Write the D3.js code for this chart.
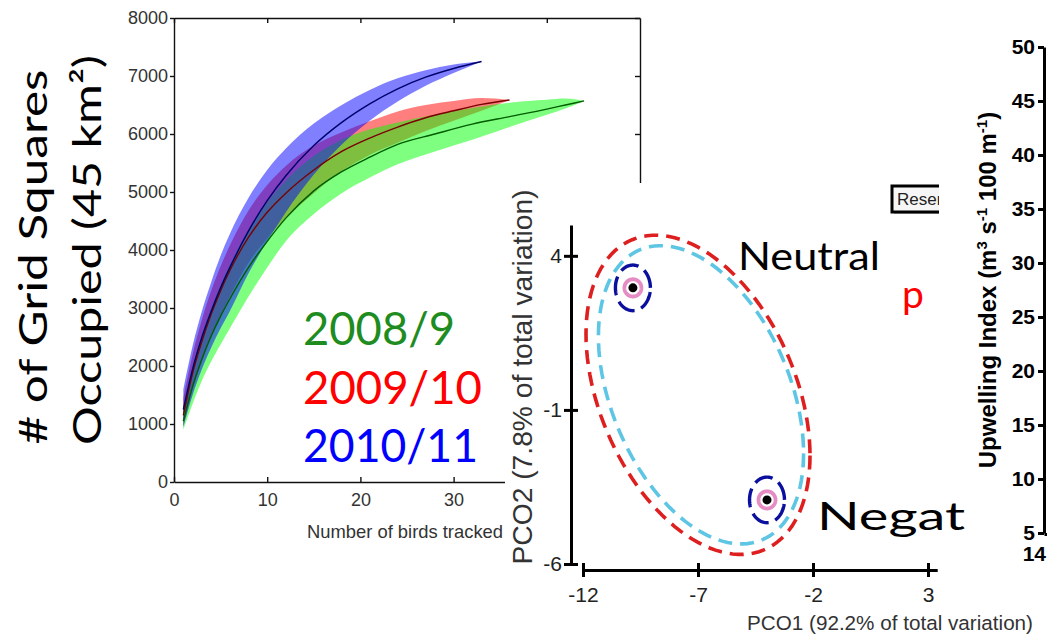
<!DOCTYPE html>
<html>
<head>
<meta charset="utf-8">
<script src="https://cdnjs.cloudflare.com/ajax/libs/d3/7.8.5/d3.min.js"></script>
<style>
    body { margin: 0; background: #fff; }
    svg { display: block; }
    text { font-family: "Liberation Sans", Arial, sans-serif; }
    .slide { font-family: Lato, "DejaVu Sans", sans-serif; }
</style>
</head>
<body>
<div id="chart"></div>
<script>
// ---- accumulation curves: grid squares occupied vs birds tracked ----
const seasons = ["2008/9", "2009/10", "2010/11"];

const birds0809 = [1, 2, 3, 4, 5, 6, 8, 10, 12, 15, 18, 21, 24, 28, 32, 36, 40, 42, 44];
const mean0809 = [1050, 1650, 2120, 2520, 2860, 3160, 3700, 4150, 4550, 5020, 5350, 5600, 5820, 6000, 6170, 6300, 6430, 6500, 6570];
const low0809 = [900, 1350, 1750, 2080, 2370, 2650, 3200, 3700, 4150, 4620, 4980, 5250, 5480, 5700, 5900, 6120, 6330, 6440, 6570];
const high0809 = [1300, 2000, 2550, 3000, 3400, 3750, 4350, 4820, 5200, 5620, 5900, 6080, 6200, 6330, 6450, 6540, 6590, 6610, 6570];

const birds0910 = [1, 2, 3, 4, 5, 6, 8, 10, 12, 15, 18, 21, 24, 27, 30, 33, 36];
const mean0910 = [1150, 1880, 2430, 2900, 3300, 3650, 4220, 4650, 4980, 5380, 5700, 5930, 6120, 6280, 6400, 6510, 6586];
const low0910 = [950, 1580, 2080, 2500, 2870, 3200, 3780, 4200, 4550, 4980, 5360, 5640, 5850, 6050, 6230, 6400, 6586];
const high0910 = [1450, 2200, 2800, 3300, 3720, 4080, 4680, 5120, 5450, 5800, 6030, 6220, 6390, 6500, 6570, 6620, 6586];

const birds1011 = [1, 2, 3, 4, 5, 6, 8, 10, 12, 15, 18, 21, 24, 27, 30, 33];
const mean1011 = [1250, 1950, 2500, 2950, 3350, 3700, 4330, 4850, 5280, 5800, 6200, 6520, 6780, 6980, 7130, 7250];
const low1011 = [950, 1500, 1950, 2320, 2650, 2950, 3600, 4150, 4650, 5300, 5820, 6230, 6560, 6830, 7050, 7250];
const high1011 = [1600, 2350, 2950, 3450, 3900, 4280, 4900, 5380, 5750, 6180, 6500, 6760, 6960, 7100, 7200, 7250];

const accumYTicks = [0, 1000, 2000, 3000, 4000, 5000, 6000, 7000, 8000];
const accumXTicks = [0, 10, 20, 30, 40];

// ---- PCO ordination ----
const pcoXTicks = [-12, -7, -2, 3];
const pcoYTicks = [4, -1, -6];
// big confidence regions: centre + two conjugate semi-axes (PCO units)
const regionCentre = [[-7.0, -0.51], [-6.87, -0.51]];
const regionAxisU = [[4.87, -1.97], [4.46, -1.90]];
const regionAxisV = [[0, -4.79], [0, -4.45]];
// group centroids (Neutral, Negative) and their spreads
const groupX = [-9.83, -4.0];
const groupY = [2.96, -3.92];
const spreadOuter = [0.76, 0.74];
const spreadInner = [0.37, 0.28];

// ---- upwelling index ----
const upwellTicks = [5, 10, 15, 20, 25, 30, 35, 40, 45, 50];

const W = 1047, H = 643;
const svg = d3.select("#chart").append("svg")
    .attr("width", W)
    .attr("height", H);

/* ================= panel 1 ================= */
const xA = d3.scaleLinear().domain([0, 50]).range([174, 640]);
const yA = d3.scaleLinear().domain([0, 8000]).range([482, 18]);
const gA = svg.append("g");

const series = [
    {x: birds0910, m: mean0910, lo: low0910, hi: high0910, fill: "#ff0000", line: "#7a0000"},
    {x: birds0809, m: mean0809, lo: low0809, hi: high0809, fill: "#00ff00", line: "#005c00"},
    {x: birds1011, m: mean1011, lo: low1011, hi: high1011, fill: "#0000ff", line: "#00006a"}
];
series.forEach(s => {
    s.pts = s.x.map((x, i) => ({x: x, m: s.m[i], lo: s.lo[i], hi: s.hi[i]}));
});

const band = d3.area()
    .curve(d3.curveMonotoneX)
    .x(d => xA(d.x))
    .y0(d => yA(d.lo))
    .y1(d => yA(d.hi));
const meanLine = d3.line()
    .curve(d3.curveMonotoneX)
    .x(d => xA(d.x))
    .y(d => yA(d.m));

gA.selectAll(".band")
    .data(series)
    .enter().append("path")
    .attr("class", "band")
    .attr("d", s => band(s.pts))
    .attr("fill", s => s.fill)
    .attr("fill-opacity", 0.5);

gA.selectAll(".mean")
    .data(series)
    .enter().append("path")
    .attr("class", "mean")
    .attr("d", s => meanLine(s.pts))
    .attr("fill", "none")
    .attr("stroke", s => s.line)
    .attr("stroke-width", 1.4);

function styleAxisA(g) {
    g.selectAll(".domain, .tick line").attr("stroke", "#111").attr("stroke-width", 1.4);
    g.selectAll("text").attr("font-size", 18).attr("fill", "#333");
}
const intFmt = d3.format("d");

gA.append("g")
    .attr("transform", "translate(" + xA(0) + ",0)")
    .call(d3.axisLeft(yA).tickValues(accumYTicks).tickFormat(intFmt)
        .tickSize(4).tickSizeOuter(0).tickPadding(2))
    .call(styleAxisA);
gA.append("g")
    .attr("transform", "translate(0," + yA(0) + ")")
    .call(d3.axisBottom(xA).tickValues(accumXTicks).tickFormat(intFmt)
        .tickSize(-5).tickSizeOuter(0).tickPadding(11))
    .call(styleAxisA);
gA.append("g")
    .attr("transform", "translate(0," + yA(8000) + ")")
    .call(d3.axisTop(xA).tickValues(accumXTicks).tickSize(-5).tickSizeOuter(0).tickFormat(""))
    .call(styleAxisA);
gA.append("g")
    .attr("transform", "translate(" + xA(50) + ",0)")
    .call(d3.axisRight(yA).tickValues(accumYTicks).tickSize(-5).tickSizeOuter(0).tickFormat(""))
    .call(styleAxisA);

gA.append("text")
    .attr("x", 405).attr("y", 538)
    .attr("text-anchor", "middle")
    .attr("font-size", 18.5)
    .attr("fill", "#333")
    .attr("textLength", 196)
    .attr("lengthAdjust", "spacingAndGlyphs")
    .text("Number of birds tracked");

// slide text: y title and season legend
gA.append("text").attr("class", "slide")
    .attr("transform", "translate(47,257) rotate(-90)")
    .attr("text-anchor", "middle")
    .attr("font-size", 38)
    .attr("textLength", 375)
    .attr("lengthAdjust", "spacingAndGlyphs")
    .text("# of Grid Squares");
gA.append("text").attr("class", "slide")
    .attr("transform", "translate(101,250) rotate(-90)")
    .attr("text-anchor", "middle")
    .attr("font-size", 38)
    .attr("textLength", 390)
    .attr("lengthAdjust", "spacingAndGlyphs")
    .text("Occupied (45 km²)");

const legendColors = ["#1e8c1e", "#ff0000", "#0000ff"];
const legendLen = [152, 179, 175];
gA.selectAll(".season")
    .data(seasons)
    .enter().append("text")
    .attr("class", "season slide")
    .attr("x", 303)
    .attr("y", (d, i) => 345 + i * 58.5)
    .attr("font-size", 46)
    .attr("fill", (d, i) => legendColors[i])
    .attr("textLength", (d, i) => legendLen[i])
    .attr("lengthAdjust", "spacingAndGlyphs")
    .text(d => d);

/* ================= panel 2: PCO ================= */
const gB = svg.append("g");
gB.append("rect")
    .attr("x", 505).attr("y", 183)
    .attr("width", 470).attr("height", 460)
    .attr("fill", "#fff");

const xB = d3.scaleLinear().domain([-12, 3.4]).range([583, 937.2]);
const yB = d3.scaleLinear().domain([-6, 5]).range([564, 225]);

function ellipsePts(c, u, v) {
    return d3.range(120).map(i => {
        const t = i / 120 * 2 * Math.PI;
        return [c[0] + u[0] * Math.cos(t) + v[0] * Math.sin(t),
                c[1] + u[1] * Math.cos(t) + v[1] * Math.sin(t)];
    });
}
const closedLine = d3.line()
    .curve(d3.curveLinearClosed)
    .x(d => xB(d[0]))
    .y(d => yB(d[1]));

const regionStyle = [{stroke: "#dd1f1f", dash: "14 8"}, {stroke: "#5ec6e4", dash: "14 8"}];
gB.selectAll(".region")
    .data(regionCentre)
    .enter().append("path")
    .attr("class", "region")
    .attr("d", (c, i) => closedLine(ellipsePts(c, regionAxisU[i], regionAxisV[i])))
    .attr("fill", "none")
    .attr("stroke", (c, i) => regionStyle[i].stroke)
    .attr("stroke-width", 3.6)
    .attr("stroke-dasharray", (c, i) => regionStyle[i].dash);

groupX.forEach((gx, i) => {
    const c = [gx, groupY[i]];
    gB.append("path")
        .attr("d", closedLine(ellipsePts(c, [spreadOuter[0], 0], [0, spreadOuter[1]])))
        .attr("fill", "none")
        .attr("stroke", "#0a0f9e")
        .attr("stroke-width", 3.4)
        .attr("stroke-dasharray", "19 7");
    gB.append("path")
        .attr("d", closedLine(ellipsePts(c, [spreadInner[0], 0], [0, spreadInner[1]])))
        .attr("fill", "none")
        .attr("stroke", "#e68cc4")
        .attr("stroke-width", 3.8);
    gB.append("circle")
        .attr("cx", xB(gx)).attr("cy", yB(groupY[i]))
        .attr("r", 4.5)
        .attr("fill", "#000");
});

function styleAxisB(g) {
    g.selectAll(".domain, .tick line").attr("stroke", "#000").attr("stroke-width", 3);
    g.selectAll("text").attr("font-size", 21).attr("fill", "#222");
}
const yAxisB = gB.append("g")
    .attr("transform", "translate(571,0)")
    .call(d3.axisLeft(yB).tickValues(pcoYTicks).tickSize(7).tickSizeOuter(0).tickPadding(2)
        .tickFormat(d => String(d)))
    .call(styleAxisB);
yAxisB.selectAll(".tick line").attr("x1", 7);

const xAxisB = gB.append("g")
    .attr("transform", "translate(0,570)")
    .call(d3.axisBottom(xB).tickValues(pcoXTicks).tickSize(7).tickSizeOuter(0).tickPadding(10)
        .tickFormat(d => String(d)))
    .call(styleAxisB);
xAxisB.selectAll(".tick line").attr("y1", -7);

gB.append("text")
    .attr("x", 747).attr("y", 630)
    .attr("font-size", 20.5)
    .attr("fill", "#333")
    .attr("textLength", 286)
    .attr("lengthAdjust", "spacingAndGlyphs")
    .text("PCO1 (92.2% of total variation)");
gB.append("text")
    .attr("transform", "translate(532,377) rotate(-90)")
    .attr("text-anchor", "middle")
    .attr("font-size", 28)
    .attr("fill", "#333")
    .attr("textLength", 375)
    .attr("lengthAdjust", "spacingAndGlyphs")
    .text("PCO2 (7.8% of total variation)");

gB.append("text").attr("class", "slide")
    .attr("x", 738).attr("y", 270)
    .attr("font-size", 38)
    .attr("textLength", 142)
    .attr("lengthAdjust", "spacingAndGlyphs")
    .text("Neutral");
gB.append("text").attr("class", "slide")
    .attr("x", 817).attr("y", 530)
    .attr("font-size", 38)
    .attr("textLength", 148)
    .attr("lengthAdjust", "spacingAndGlyphs")
    .text("Negat");
gB.append("text").attr("class", "slide")
    .attr("x", 902).attr("y", 308)
    .attr("font-size", 39)
    .attr("fill", "#ff0000")
    .text("p");

// clipped button fragment
svg.append("clipPath").attr("id", "btnClip")
    .append("rect").attr("x", 880).attr("y", 175).attr("width", 59).attr("height", 50);
const btn = svg.append("g").attr("clip-path", "url(#btnClip)");
btn.append("rect")
    .attr("x", 894).attr("y", 188)
    .attr("width", 70).attr("height", 26)
    .attr("fill", "#bbb");
btn.append("rect")
    .attr("x", 892).attr("y", 186)
    .attr("width", 70).attr("height", 26)
    .attr("fill", "#f6f6f6")
    .attr("stroke", "#000")
    .attr("stroke-width", 3);
btn.append("text")
    .attr("x", 897).attr("y", 205)
    .attr("font-size", 17)
    .attr("fill", "#222")
    .text("Reserve");

/* ================= panel 3: upwelling ================= */
const gC = svg.append("g");
const yC = d3.scaleLinear().domain([5, 50]).range([533, 47]);
const xC = d3.scaleLinear().domain([0, 1]).range([1044, 1110]);

const yAxisC = gC.append("g")
    .attr("transform", "translate(1044,0)")
    .call(d3.axisLeft(yC).tickValues(upwellTicks).tickSize(6).tickSizeOuter(0).tickPadding(3));
yAxisC.selectAll(".domain, .tick line").attr("stroke", "#000").attr("stroke-width", 3);
yAxisC.selectAll("text").attr("font-size", 21).attr("font-weight", "bold").attr("fill", "#000");

gC.append("g")
    .attr("transform", "translate(0," + (yC(5) + 1) + ")")
    .call(d3.axisBottom(xC).tickValues([]).tickSizeOuter(0))
    .selectAll(".domain").attr("stroke", "#000").attr("stroke-width", 3);

gC.append("text")
    .attr("x", 1046).attr("y", 561)
    .attr("text-anchor", "end")
    .attr("font-size", 21)
    .attr("font-weight", "bold")
    .text("14");

const upLabel = gC.append("text")
    .attr("transform", "translate(996,290) rotate(-90)")
    .attr("text-anchor", "middle")
    .attr("font-size", 24)
    .attr("font-weight", "bold");
upLabel.append("tspan").text("Upwelling Index (m");
upLabel.append("tspan").attr("font-size", 15).attr("dy", -9).text("3");
upLabel.append("tspan").attr("dy", 9).text(" s");
upLabel.append("tspan").attr("font-size", 15).attr("dy", -9).text("-1");
upLabel.append("tspan").attr("dy", 9).text(" 100 m");
upLabel.append("tspan").attr("font-size", 15).attr("dy", -9).text("-1");
upLabel.append("tspan").attr("dy", 9).text(")");
</script>
</body>
</html>
